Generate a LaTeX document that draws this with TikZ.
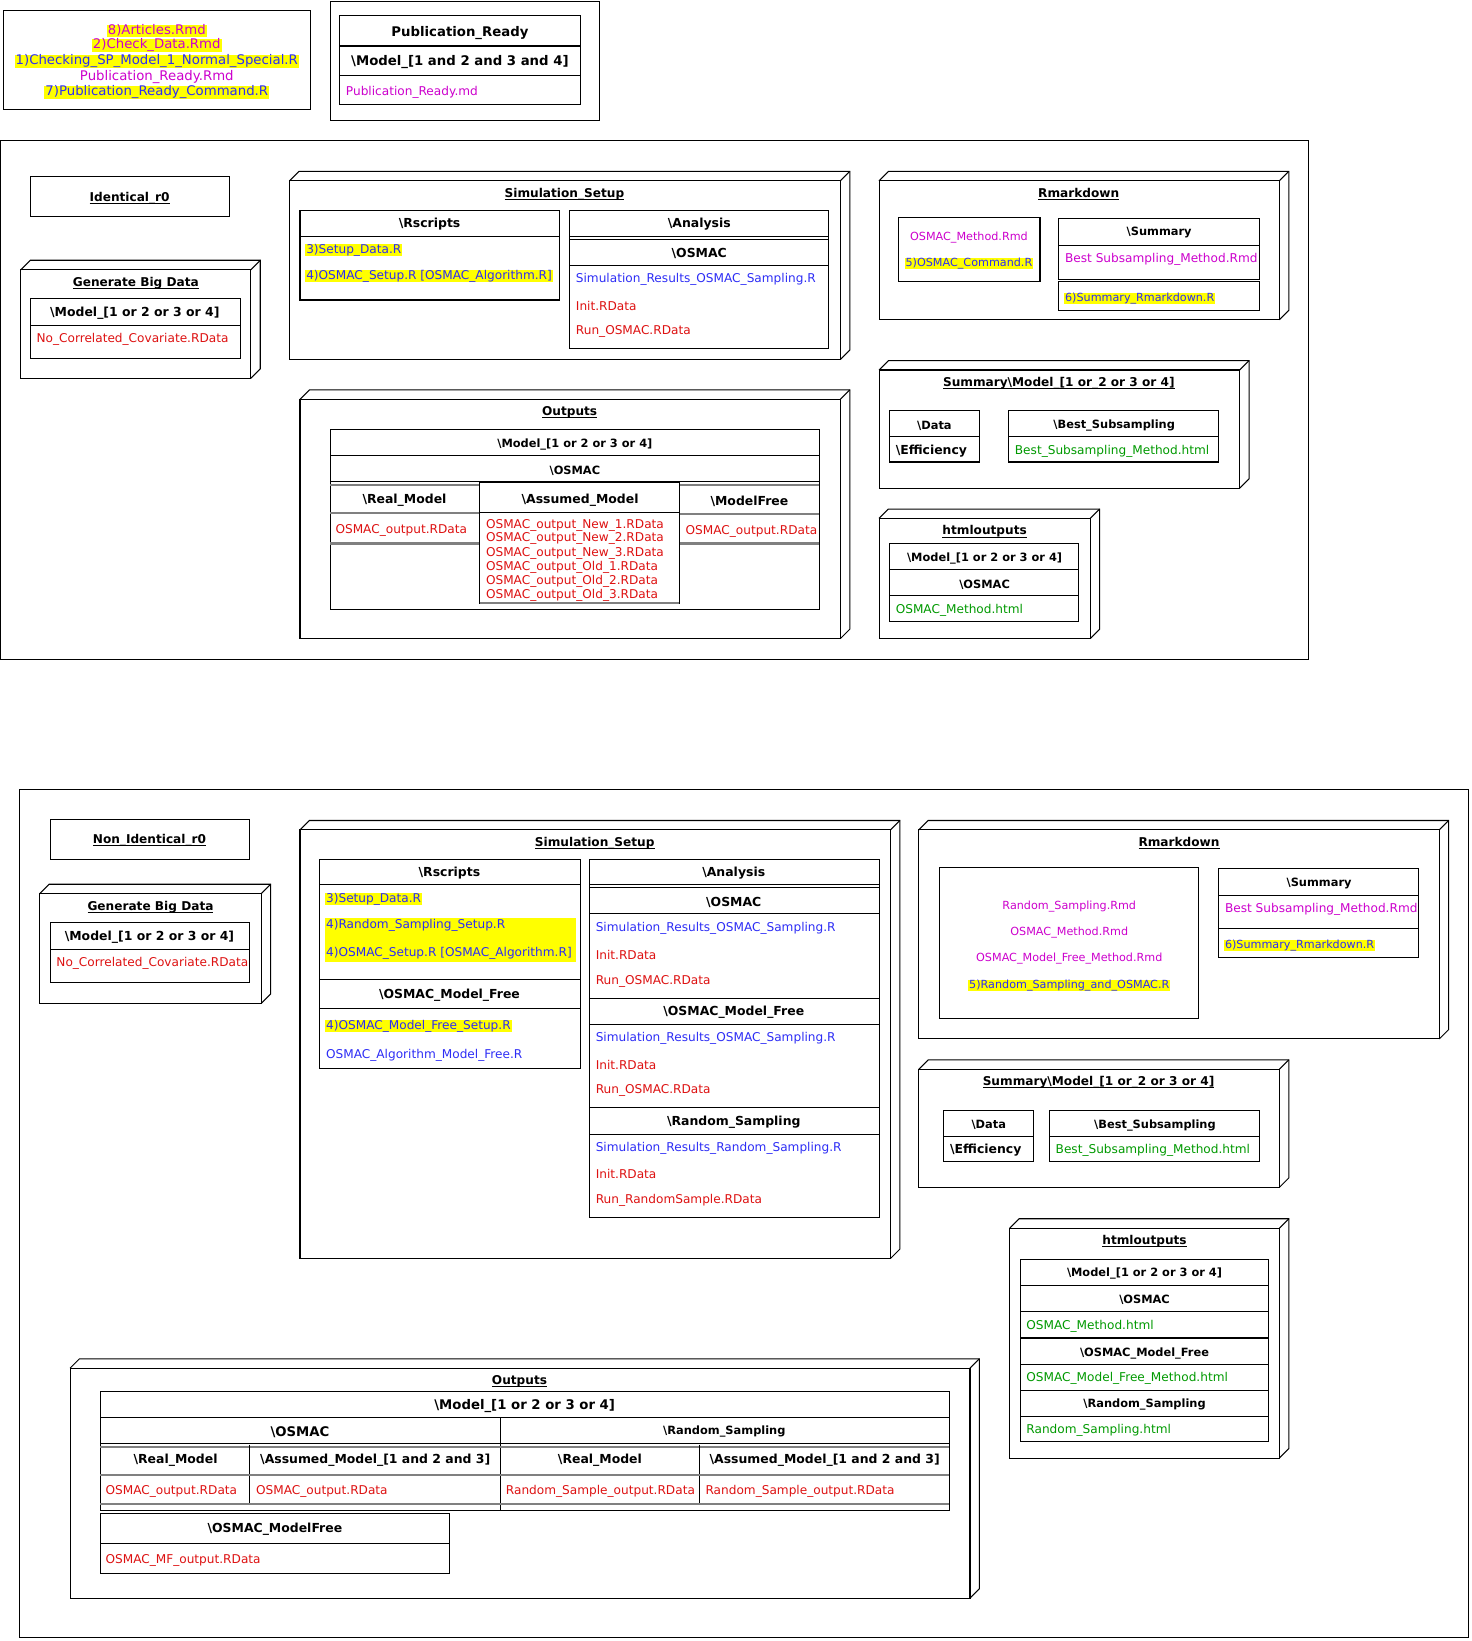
\documentclass[tikz,border=0pt]{standalone}
\usepackage{fontspec}
\setmainfont{DejaVu Sans}
\definecolor{mag}{RGB}{204,0,204}
\definecolor{blu}{RGB}{45,45,245}
\definecolor{rd}{RGB}{221,17,17}
\definecolor{grn}{RGB}{0,153,0}
\definecolor{yel}{RGB}{255,255,0}
\definecolor{gln}{RGB}{128,128,128}
\newcommand\cube[4]{%
  \draw (#1,#2+9) rectangle (#3-9,#4);
  \draw (#1,#2+9) -- (#1+9,#2) -- (#3,#2) -- (#3,#4-9) -- (#3-9,#4);
  \draw (#3-9,#2+9) -- (#3,#2);}
\newcommand\bs{\textbackslash}
\newcommand\ttlul[1]{\underline{\raisebox{0pt}[\height][0.5pt]{#1}}}
\tikzset{
  every node/.style={inner sep=0pt, outer sep=0pt, yshift=-1.5pt},
  lt/.style={anchor=west},
  N/.style={font=\fontsize{11.6}{14}\selectfont},
  S/.style={font=\fontsize{10.7}{13}\selectfont},
  L/.style={font=\fontsize{12.7}{15}\selectfont},
  B/.style={font=\bfseries\fontsize{11.9}{14}\selectfont},
  Bs/.style={font=\bfseries\fontsize{10.9}{13}\selectfont},
  BL/.style={font=\bfseries\fontsize{12.7}{15}\selectfont},
  ttl/.style={font=\bfseries\fontsize{11.6}{14}\selectfont},
  hl/.style={fill=yel, inner xsep=1pt},
  gline/.style={draw=gln, line width=2pt},
}
\begin{document}
\begin{tikzpicture}[x=1pt,y=-1pt,line width=1pt]
\useasboundingbox (0,0) rectangle (1408,1570);

% ---------- legend box ----------
\draw (3,10) rectangle (297,105);
\node[L,text=mag,hl] (a1) at (150,28) {8)Articles.Rmd};
\node[L,text=mag,hl] (a2) at (150,42) {2)Check\_Data.Rmd};
\node[L,text=blu,hl] (a3) at (150,57) {1)Checking\_SP\_Model\_1\_Normal\_Special.R};
\node[L,text=mag] (a4) at (150,72) {Publication\_Ready.Rmd};
\node[L,text=blu,hl] (a5) at (150,87) {7)Publication\_Ready\_Command.R};

% ---------- publication ready ----------
\draw (316,1) rectangle (574,115);
\draw (325,15) rectangle (555,100);
\draw (325,44) -- (555,44);
\draw (325,72) -- (555,72);
\node[BL] (p1) at (440,30) {Publication\_Ready};
\node[BL] (p2) at (440,58) {\bs Model\_[1 and 2 and 3 and 4]};
\node[N,lt,text=mag] (p3) at (331,87) {Publication\_Ready.md};

% ================= TOP FRAME =================
\draw (0,134) rectangle (1252,631);
\draw (29,169) rectangle (220,207);
\node[ttl] (t0) at (124,188) {\ttlul{Identical\_r0}};

% Generate Big Data
\cube{20}{249}{249}{362}
\node[ttl] (g0) at (130,269) {\ttlul{Generate Big Data}};
\draw (29,286) rectangle (230,343);
\draw (29,311) -- (230,311);
\node[B] (g1) at (129,298) {\bs Model\_[1 or 2 or 3 or 4]};
\node[N,lt,text=rd] (g2) at (35,323) {No\_Correlated\_Covariate.RData};

% Simulation setup
\cube{277}{164}{813}{344}
\node[ttl] (s0) at (540,184) {\ttlul{Simulation\_Setup}};
\draw (287,201) rectangle (535,287);
\draw (287,226) -- (535,226);
\node[B] (s1) at (411,213) {\bs Rscripts};
\node[N,lt,hl,text=blu] (s2) at (292,238) {3)Setup\_Data.R};
\node[N,lt,hl,text=blu] (s3) at (292,263) {4)OSMAC\_Setup.R [OSMAC\_Algorithm.R]};
\draw (545,201) rectangle (793,333);
\draw (545,226) -- (793,226);
\draw (545,229) -- (793,229);
\draw (545,254) -- (793,254);
\node[B] (s4) at (669,213) {\bs Analysis};
\node[B] (s5) at (669,241) {\bs OSMAC};
\node[N,lt,text=blu] (s6) at (551,266) {Simulation\_Results\_OSMAC\_Sampling.R};
\node[N,lt,text=rd] (s7) at (551,291) {Init.RData};
\node[N,lt,text=rd] (s8) at (551,316) {Run\_OSMAC.RData};

% Rmarkdown
\cube{841}{164}{1233}{306}
\node[ttl] (r0) at (1032,184) {\ttlul{Rmarkdown}};
\draw (860,208) rectangle (995,269);
\node[S,text=mag] (r1) at (927,226) {OSMAC\_Method.Rmd};
\node[S,hl,text=blu] (r2) at (927,251) {5)OSMAC\_Command.R};
\draw (1013,209) rectangle (1205,267);
\draw (1013,235) -- (1205,235);
\node[Bs] (r3) at (1109,221) {\bs Summary};
\node[N,lt,text=mag] (r4) at (1019,247) {Best Subsampling\_Method.Rmd};
\draw (1013,269) rectangle (1205,297);
\node[S,lt,hl,text=blu] (r5) at (1018,284) {6)Summary\_Rmarkdown.R};

% Summary\Model
\cube{841}{345}{1195}{467}
\node[ttl] (m0) at (1013,365) {\ttlul{Summary\bs Model\_[1 or\_2 or 3 or 4]}};
\draw (851,393) rectangle (937,442);
\draw (851,418) -- (937,418);
\node[Bs] (m1) at (894,406) {\bs Data};
\node[B,lt] (m2) at (857,430) {\bs Efficiency};
\draw (965,393) rectangle (1166,442);
\draw (965,418) -- (1166,418);
\node[Bs] (m3) at (1066,406) {\bs Best\_Subsampling};
\node[N,lt,text=grn] (m4) at (971,430) {Best\_Subsampling\_Method.html};

% htmloutputs
\cube{841}{487}{1052}{611}
\node[ttl] (h0) at (942,507) {\ttlul{htmloutputs}};
\draw (851,520) rectangle (1032,595);
\draw (851,545) -- (1032,545);
\draw (851,570) -- (1032,570);
\node[Bs] (h1) at (942,533) {\bs Model\_[1 or 2 or 3 or 4]};
\node[Bs] (h2) at (942,558) {\bs OSMAC};
\node[N,lt,text=grn] (h3) at (857,582) {OSMAC\_Method.html};

% Outputs
\cube{287}{373}{813}{611}
\node[ttl] (o0) at (545,393) {\ttlul{Outputs}};
\draw (316,411) rectangle (784,583);
\draw (316,436) -- (784,436);
\draw (316,461) -- (784,461);
\node[Bs] (o1) at (550,424) {\bs Model\_[1 or 2 or 3 or 4]};
\node[Bs] (o2) at (550,449) {\bs OSMAC};
\draw[gline] (316,464) -- (459,464);
\draw[gline] (650,464) -- (784,464);
\draw[gline] (316,491) -- (459,491);
\draw[gline] (316,520) -- (459,520);
\draw[gline] (650,492) -- (784,492);
\draw[gline] (650,520) -- (784,520);
\draw (459,462) rectangle (650,577);
\draw (459,490) -- (650,490);
\draw[gln, line width=2pt] (459,577) -- (650,577);
\node[B] (o3) at (387,477) {\bs Real\_Model};
\node[B] (o4) at (555,477) {\bs Assumed\_Model};
\node[B] (o5) at (717,478) {\bs ModelFree};
\node[N,lt,text=rd] (o6) at (321,506) {OSMAC\_output.RData};
\node[N,lt,text=rd] (o7) at (656,507) {OSMAC\_output.RData};
\node[N,lt,text=rd] (o8) at (465,501) {OSMAC\_output\_New\_1.RData};
\node[N,lt,text=rd] (o9) at (465,514) {OSMAC\_output\_New\_2.RData};
\node[N,lt,text=rd] (o10) at (465,528) {OSMAC\_output\_New\_3.RData};
\node[N,lt,text=rd] (o11) at (465,541) {OSMAC\_output\_Old\_1.RData};
\node[N,lt,text=rd] (o12) at (465,555) {OSMAC\_output\_Old\_2.RData};
\node[N,lt,text=rd] (o13) at (465,568) {OSMAC\_output\_Old\_3.RData};

% ================= BOTTOM FRAME =================
\draw (19,755) rectangle (1405,1567);
\draw (48,784) rectangle (239,822);
\node[ttl] (u0) at (143,802) {\ttlul{Non\_Identical\_r0}};

% Generate Big Data
\cube{38}{846}{259}{960}
\node[ttl] (bg0) at (144,866) {\ttlul{Generate Big Data}};
\draw (48,883) rectangle (239,940);
\draw (48,908) -- (239,908);
\node[B] (bg1) at (143,895) {\bs Model\_[1 or 2 or 3 or 4]};
\begin{scope}
\clip (48,908) rectangle (238,940);
\node[N,lt,text=rd] (bg2) at (54,920) {No\_Correlated\_Covariate.RData};
\end{scope}

% Simulation setup
\cube{287}{785}{861}{1204}
\node[ttl] (bs0) at (569,805) {\ttlul{Simulation\_Setup}};
\draw (306,822) rectangle (555,1022);
\draw (306,846) -- (555,846);
\draw (306,937) -- (555,937);
\draw (306,965) -- (555,965);
\node[B] (bs1) at (430,834) {\bs Rscripts};
\node[N,lt,hl,text=blu] (bs2) at (311,859) {3)Setup\_Data.R};
\fill[yel] (311,878) rectangle (551,920);
\node[N,lt,text=blu] (bs3) at (312,884) {4)Random\_Sampling\_Setup.R};
\node[N,lt,text=blu] (bs4) at (312,911) {4)OSMAC\_Setup.R [OSMAC\_Algorithm.R]};
\node[B] (bs5) at (430,951) {\bs OSMAC\_Model\_Free};
\node[N,lt,hl,text=blu] (bs6) at (311,980) {4)OSMAC\_Model\_Free\_Setup.R};
\node[N,lt,text=blu] (bs7) at (312,1008) {OSMAC\_Algorithm\_Model\_Free.R};

\draw (564,822) rectangle (841,1165);
\draw (564,846) -- (841,846);
\draw (564,849) -- (841,849);
\draw (564,874) -- (841,874);
\draw (564,955) -- (841,955);
\draw (564,980) -- (841,980);
\draw (564,1060) -- (841,1060);
\draw (564,1085) -- (841,1085);
\node[B] (ba1) at (702,834) {\bs Analysis};
\node[B] (ba2) at (702,862) {\bs OSMAC};
\node[N,lt,text=blu] (ba3) at (570,887) {Simulation\_Results\_OSMAC\_Sampling.R};
\node[N,lt,text=rd] (ba4) at (570,912) {Init.RData};
\node[N,lt,text=rd] (ba5) at (570,937) {Run\_OSMAC.RData};
\node[B] (ba6) at (702,967) {\bs OSMAC\_Model\_Free};
\node[N,lt,text=blu] (ba7) at (570,992) {Simulation\_Results\_OSMAC\_Sampling.R};
\node[N,lt,text=rd] (ba8) at (570,1017) {Init.RData};
\node[N,lt,text=rd] (ba9) at (570,1042) {Run\_OSMAC.RData};
\node[B] (ba10) at (702,1072) {\bs Random\_Sampling};
\node[N,lt,text=blu] (ba11) at (570,1097) {Simulation\_Results\_Random\_Sampling.R};
\node[N,lt,text=rd] (ba12) at (570,1122) {Init.RData};
\node[N,lt,text=rd] (ba13) at (570,1147) {Run\_RandomSample.RData};

% Rmarkdown
\cube{879}{785}{1386}{994}
\node[ttl] (br0) at (1128,805) {\ttlul{Rmarkdown}};
\draw (899,830) rectangle (1147,974);
\node[S,text=mag] (br1) at (1023,866) {Random\_Sampling.Rmd};
\node[S,text=mag] (br2) at (1023,891) {OSMAC\_Method.Rmd};
\node[S,text=mag] (br3) at (1023,916) {OSMAC\_Model\_Free\_Method.Rmd};
\node[S,hl,text=blu] (br4) at (1023,941) {5)Random\_Sampling\_and\_OSMAC.R};
\draw (1166,831) rectangle (1357,916);
\draw (1166,857) -- (1357,857);
\draw (1166,888) -- (1357,888);
\node[Bs] (br5) at (1262,844) {\bs Summary};
\node[N,lt,text=mag] (br6) at (1172,868) {Best Subsampling\_Method.Rmd};
\node[S,lt,hl,text=blu] (br7) at (1171,903) {6)Summary\_Rmarkdown.R};

% Summary\Model
\cube{879}{1014}{1233}{1136}
\node[ttl] (bm0) at (1051,1034) {\ttlul{Summary\bs Model\_[1 or\_2 or 3 or 4]}};
\draw (903,1062) rectangle (989,1111);
\draw (903,1087) -- (989,1087);
\node[Bs] (bm1) at (946,1075) {\bs Data};
\node[B,lt] (bm2) at (909,1099) {\bs Efficiency};
\draw (1004,1062) rectangle (1205,1111);
\draw (1004,1087) -- (1205,1087);
\node[Bs] (bm3) at (1105,1075) {\bs Best\_Subsampling};
\node[N,lt,text=grn] (bm4) at (1010,1099) {Best\_Subsampling\_Method.html};

% htmloutputs
\cube{966}{1166}{1233}{1395}
\node[ttl] (bh0) at (1095,1186) {\ttlul{htmloutputs}};
\draw (976,1205) rectangle (1214,1379);
\draw (976,1230) -- (1214,1230);
\draw (976,1255) -- (1214,1255);
\draw[line width=2pt] (976,1280) -- (1214,1280);
\draw (976,1305) -- (1214,1305);
\draw (976,1330) -- (1214,1330);
\draw (976,1355) -- (1214,1355);
\node[Bs] (bh1) at (1095,1217) {\bs Model\_[1 or 2 or 3 or 4]};
\node[Bs] (bh2) at (1095,1242) {\bs OSMAC};
\node[N,lt,text=grn] (bh3) at (982,1267) {OSMAC\_Method.html};
\node[Bs] (bh4) at (1095,1293) {\bs OSMAC\_Model\_Free};
\node[N,lt,text=grn] (bh5) at (982,1317) {OSMAC\_Model\_Free\_Method.html};
\node[Bs] (bh6) at (1095,1342) {\bs Random\_Sampling};
\node[N,lt,text=grn] (bh7) at (982,1367) {Random\_Sampling.html};

% Outputs
\cube{67}{1300}{937}{1529}
\node[ttl] (bo0) at (497,1320) {\ttlul{Outputs}};
\draw (96,1331) rectangle (908,1445);
\draw (96,1356) -- (908,1356);
\draw (479,1356) -- (479,1445);
\node[BL] (bo1) at (502,1344) {\bs Model\_[1 or 2 or 3 or 4]};
\node[BL] (bo2) at (287,1369) {\bs OSMAC};
\node[Bs] (bo3) at (693,1368) {\bs Random\_Sampling};
\draw (96,1381) -- (908,1381);
\draw[gline] (96,1384) -- (908,1384);
\draw (239,1382) -- (239,1439);
\draw (669,1382) -- (669,1439);
\node[B] (bo4) at (168,1396) {\bs Real\_Model};
\node[B] (bo5) at (359,1396) {\bs Assumed\_Model\_[1 and 2 and 3]};
\node[B] (bo6) at (574,1396) {\bs Real\_Model};
\node[B] (bo7) at (789,1396) {\bs Assumed\_Model\_[1 and 2 and 3]};
\draw[gline] (96,1411) -- (908,1411);
\node[N,lt,text=rd] (bo8) at (101,1425) {OSMAC\_output.RData};
\node[N,lt,text=rd] (bo9) at (245,1425) {OSMAC\_output.RData};
\node[N,lt,text=rd] (bo10) at (484,1425) {Random\_Sample\_output.RData};
\node[N,lt,text=rd] (bo11) at (675,1425) {Random\_Sample\_output.RData};
\draw[gline] (96,1439) -- (908,1439);
\draw (96,1448) rectangle (430,1505);
\draw (96,1477) -- (430,1477);
\node[B] (bo12) at (263,1462) {\bs OSMAC\_ModelFree};
\node[N,lt,text=rd] (bo13) at (101,1491) {OSMAC\_MF\_output.RData};
\end{tikzpicture}
\end{document}
